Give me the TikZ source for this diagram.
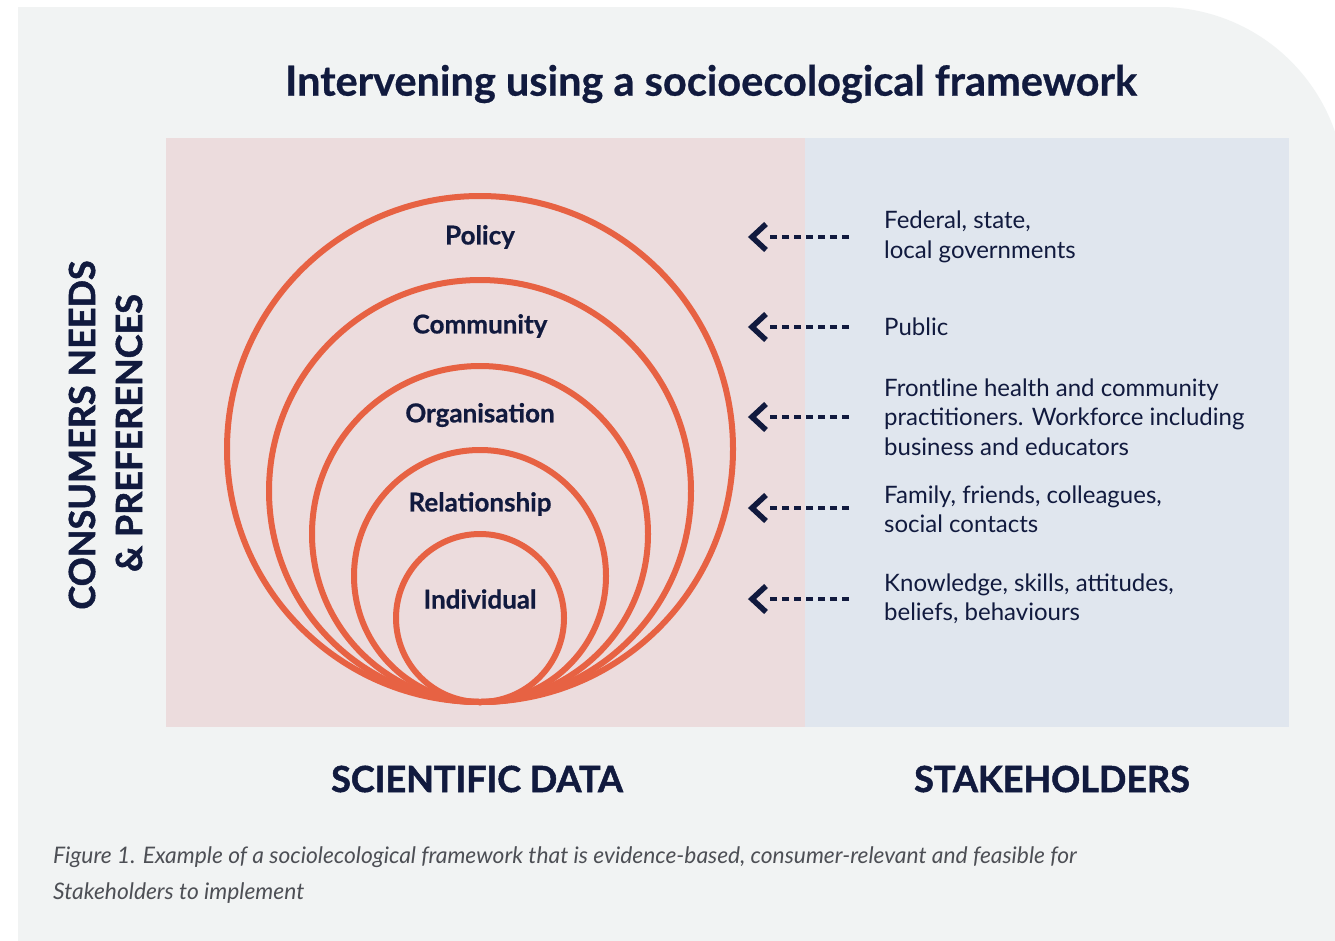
\documentclass[tikz,border=0pt]{standalone}
\usepackage{fontspec}
\setmainfont{Lato}
\newfontfamily\heavyfont{Lato}[BoldFeatures={FakeBold=1.4}]
\newfontfamily\semifont{Lato}[BoldFeatures={FakeBold=0.6}]
\definecolor{navy}{HTML}{111A3E}
\definecolor{ring}{HTML}{E76243}
\definecolor{pinkbg}{HTML}{ECDCDD}
\definecolor{bluebg}{HTML}{E0E6EE}
\definecolor{panel}{HTML}{F1F3F3}
\definecolor{captgray}{HTML}{4D4F55}
\tikzset{
  level/.style={text=navy, font=\semifont\bfseries\fontsize{26}{30}\selectfont, inner sep=0pt},
  stake/.style={text=navy, anchor=west, align=left, inner sep=0pt,
    font=\fontsize{24}{29.5}\selectfont},
  heading/.style={text=navy, font=\heavyfont\bfseries\fontsize{36}{40}\selectfont, inner sep=0pt},
  ringline/.style={draw=ring, line width=6pt},
  dashline/.style={draw=navy, line width=4pt, dash pattern=on 7pt off 5pt},
  chev/.style={draw=navy, line width=5.5pt, line join=miter, line cap=butt},
  caption/.style={text=captgray, anchor=base west, inner sep=0pt,
    font=\itshape\fontsize{22.8}{36}\selectfont},
}
\begin{document}
\begin{tikzpicture}[x=1pt, y=-1pt]
\useasboundingbox (0,0) rectangle (1335,940);
\clip (0,0) rectangle (1335,940);
\fill[white] (0,0) rectangle (1335,940);
% grey panel with one large rounded corner
\fill[panel] (18,960) -- (18,7) [rounded corners=185pt] -- (1345,7) [sharp corners] -- (1345,960) -- cycle;
% two background halves
\fill[pinkbg] (166,138) rectangle (805,727);
\fill[bluebg] (805,138) rectangle (1289,727);

% title
\node[text=navy, font=\semifont\bfseries\fontsize{41.5}{46}\selectfont, inner sep=0pt] (title) at (711,84) {Intervening using a socioecological framework};

% nested rings, all touching at the bottom
\foreach \r in {253,211,168,126,84}
  \draw[ringline] (480,702-\r) circle[radius=\r];

% level labels
\node[level] (policy) at (480,237) {Policy};
\node[level] (community) at (480,326) {Community};
\node[level] (organisation) at (480,415) {Organisation};
\node[level] (relationship) at (480,504) {Relationship};
\node[level] (individual) at (480,599) {Individual};

% stakeholders
\node[stake] (s1) at (884,237) {Federal, state,\\local governments};
\node[stake] (s2) at (884,327) {Public};
\node[stake] (s3) at (884,417) {Frontline health and community\\practitioners. Workforce including\\business and educators};
\node[stake] (s4) at (884,509) {Family, friends, colleagues,\\social contacts};
\node[stake] (s5) at (884,599) {Knowledge, skills, attitudes,\\beliefs, behaviours};

% arrow tips pointing back to the rings
\coordinate (t1) at (752,237);
\coordinate (t2) at (752,327);
\coordinate (t3) at (752,417);
\coordinate (t4) at (752,508);
\coordinate (t5) at (752,599);

\foreach \i in {1,...,5}{
  \draw[dashline] (849,0 |- t\i) -- ([xshift=16pt]t\i);
  \draw[chev] ([shift={(14,-13)}]t\i) -- (t\i) -- ([shift={(14,13)}]t\i);
}

% axis headings
\node[heading] (sci) at (477,779) {SCIENTIFIC DATA};
\node[heading] (stk) at (1052,779) {STAKEHOLDERS};
\node[heading, rotate=90] (cons1) at (82,435) {CONSUMERS NEEDS};
\node[heading, rotate=90] (cons2) at (129,433) {\& PREFERENCES};

% caption
\node[caption] (cap1) at (53,863) {Figure 1. Example of a sociolecological framework that is evidence-based, consumer-relevant and feasible for};
\node[caption] (cap2) at (53,899) {Stakeholders to implement};
\end{tikzpicture}
\end{document}
